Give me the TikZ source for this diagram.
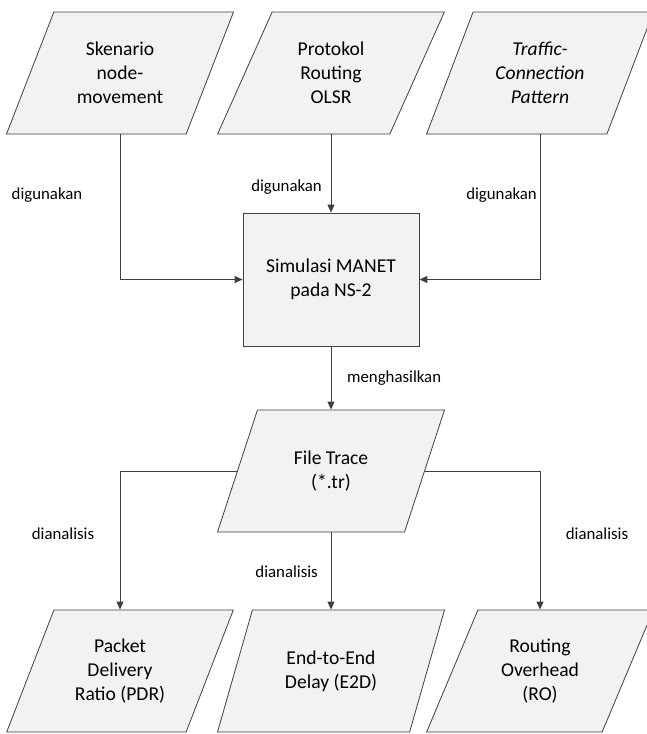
\documentclass[tikz,border=0pt]{standalone}
\usepackage{fontspec}
\setmainfont{Carlito}
\usetikzlibrary{shapes.geometric,arrows.meta}

\definecolor{linegray}{HTML}{404040}
\definecolor{boxfill}{HTML}{F2F2F2}

\tikzset{
	datanode/.style={trapezium, trapezium left angle=63.4, trapezium right angle=116.6,
		trapezium stretches=true, draw=linegray, fill=boxfill, line width=0.8pt,
		minimum width=227pt, minimum height=122pt, inner sep=0pt, align=center,
		font=\fontsize{19.6}{24}\selectfont},
	procnode/.style={rectangle, draw=linegray, fill=boxfill, line width=0.8pt,
		minimum width=176pt, minimum height=133pt, align=center,
		font=\fontsize{19.6}{24}\selectfont},
	flow/.style={draw=linegray, line width=1pt, -{Triangle[length=8pt,width=7pt]}},
	lbl/.style={font=\fontsize{16.8}{20}\selectfont, inner sep=0pt}
}

\begin{document}
\begin{tikzpicture}[x=1pt, y=-1pt]
		\useasboundingbox (0,0) rectangle (647,734);

		% input
		\node[datanode] (movement) at (120,73) {Skenario\\node-\\movement};
		\node[datanode] (olsr) at (331,73) {Protokol\\Routing\\OLSR};
		\node[datanode] (traffic) at (540,73) {\textit{Traffic-}\\\textit{Connection}\\\textit{Pattern}};

		% proses
		\node[procnode] (sim) at (331,279.5) {Simulasi MANET\\pada NS-2};
		\node[datanode] (trace) at (331,471) {File Trace\\(*.tr)};

		% hasil
		\node[datanode] (pdr) at (120,671) {Packet\\Delivery\\Ratio (PDR)};
		\node[datanode] (e2d) at (331,671) {End-to-End\\Delay (E2D)};
		\node[datanode] (ro) at (540,671) {Routing\\Overhead\\(RO)};

		\draw[flow] (movement |- movement.south) |- (sim.west);
		\draw[flow] (olsr |- olsr.south) -- (sim.north);
		\draw[flow] (traffic |- traffic.south) |- (sim.east);
		\draw[flow] (sim.south) -- (trace |- trace.north);

		\draw[flow] (trace.left side) -| (pdr |- pdr.north);
		\draw[flow] (trace |- trace.south) -- (e2d |- e2d.north);
		\draw[flow] (trace.right side) -| (ro |- ro.north);

		\node[lbl] (use1) at (47,195) {digunakan};
		\node[lbl, anchor=east] (use2) at (322,187) {digunakan};
		\node[lbl, anchor=east] (use3) at (537,195) {digunakan};
		\node[lbl, anchor=west] (gen) at (347,378) {menghasilkan};
		\node[lbl] (ana1) at (63,534) {dianalisis};
		\node[lbl, anchor=east] (ana2) at (318,572) {dianalisis};
		\node[lbl] (ana3) at (597,534) {dianalisis};
	\end{tikzpicture}
\end{document}
